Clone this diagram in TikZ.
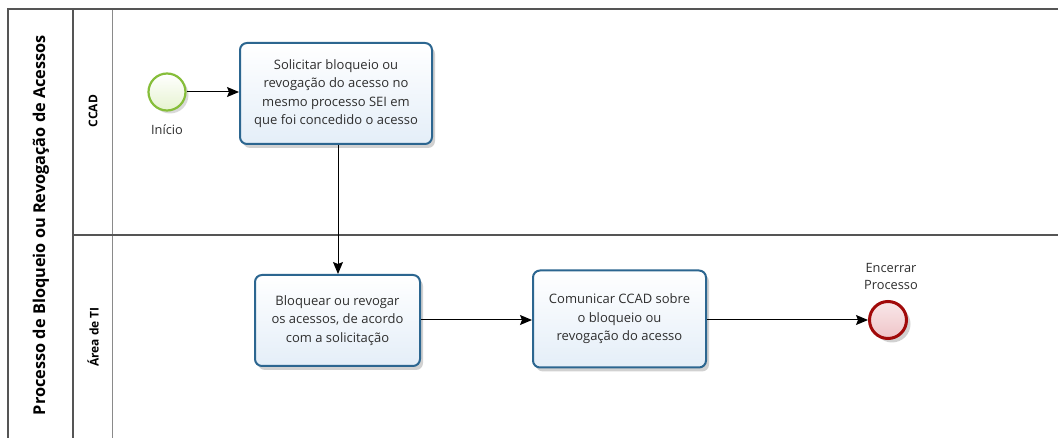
\documentclass[tikz,border=0pt]{standalone}
\usepackage{fontspec}
\setmainfont{Open Sans}
\usetikzlibrary{shadows,arrows.meta}
\definecolor{taskborder}{HTML}{2C6690}
\definecolor{taskfill}{HTML}{E4EEF8}
\definecolor{startborder}{HTML}{86BE3A}
\definecolor{startfill}{HTML}{E6F3D0}
\definecolor{endborder}{HTML}{A10A0A}
\definecolor{endfill}{HTML}{EFC4C8}
\definecolor{poolline}{HTML}{555555}
\definecolor{laneline}{HTML}{8A8A8A}
\definecolor{labeltext}{HTML}{2E2E2E}
\tikzset{
  taskbox/.style={draw=taskborder, line width=2pt, rounded corners=7pt,
    top color=white, bottom color=taskfill, align=center, text=labeltext,
    font=\fontsize{13}{18.4}\selectfont,
    drop shadow={shadow xshift=3pt, shadow yshift=-4pt, opacity=0.18, fill=black}},
  startev/.style={circle, draw=startborder, line width=2.2pt, minimum size=37pt,
    inner sep=0pt, top color=white, bottom color=startfill,
    drop shadow={shadow xshift=3pt, shadow yshift=-3pt, opacity=0.15, fill=black}},
  endev/.style={circle, draw=endborder, line width=3pt, minimum size=37pt,
    inner sep=0pt, top color=white!60!endfill, bottom color=endfill,
    drop shadow={shadow xshift=4pt, shadow yshift=-4pt, opacity=0.18, fill=black}},
  evlabel/.style={align=center, text=labeltext, font=\fontsize{12.8}{17}\selectfont},
  flow/.style={draw=black, line width=1pt, -{Stealth[length=12pt,width=10pt,inset=2pt]}},
  poolborder/.style={draw=poolline, line width=1.2pt},
  laneborder/.style={draw=laneline, line width=0.8pt}
}
\begin{document}
\begin{tikzpicture}[x=1pt,y=-1pt]
\useasboundingbox (0,0) rectangle (1058,438);
\fill[white] (0,0) rectangle (1058,438);
% pool and lanes
\draw[laneborder] (112,9) -- (112,438);
\draw[poolborder] (1058,9) -- (8,9) -- (8,438);
\draw[poolborder] (73,9) -- (73,438);
\draw[poolborder] (73,235) -- (1058,235);
\node[rotate=90, font=\fontsize{16.3}{20}\selectfont\bfseries, text=black] (pooltitle) at (41,225) {Processo de Bloqueio ou Revogação de Acessos};
\node[rotate=90, font=\fontsize{12}{13}\selectfont\bfseries, text=black] (lane1) at (93,111) {CCAD};
\node[rotate=90, font=\fontsize{12}{13}\selectfont\bfseries, text=black] (lane2) at (93,337) {Área de TI};
% events
\node[startev] (start) at (167,92) {};
\node[evlabel] (startlbl) at (167,130) {Início};
\node[endev] (end) at (888,320) {};
\node[evlabel] (endlbl) at (891,276) {Encerrar\\Processo};
% tasks
\node[taskbox, minimum width=192pt, minimum height=101pt] (t1) at (336,93.5)
  {Solicitar bloqueio ou\\revogação do acesso no\\mesmo processo SEI em\\que foi concedido o acesso};
\node[taskbox, minimum width=165pt, minimum height=91pt] (t2) at (337.5,320.5)
  {Bloquear ou revogar\\os acessos, de acordo\\com a solicitação};
\node[taskbox, minimum width=173pt, minimum height=97pt] (t3) at (619.5,319)
  {Comunicar CCAD sobre\\o bloqueio ou\\revogação do acesso};
% flows
\draw[flow] (start.east) -- (t1.west |- start.east);
\draw[flow] (t1.south -| 338,0) -- (t2.north -| 338,0);
\draw[flow] (t2.east |- 0,320) -- (t3.west |- 0,320);
\draw[flow] (t3.east |- 0,320) -- (end.west |- 0,320);
\end{tikzpicture}
\end{document}
